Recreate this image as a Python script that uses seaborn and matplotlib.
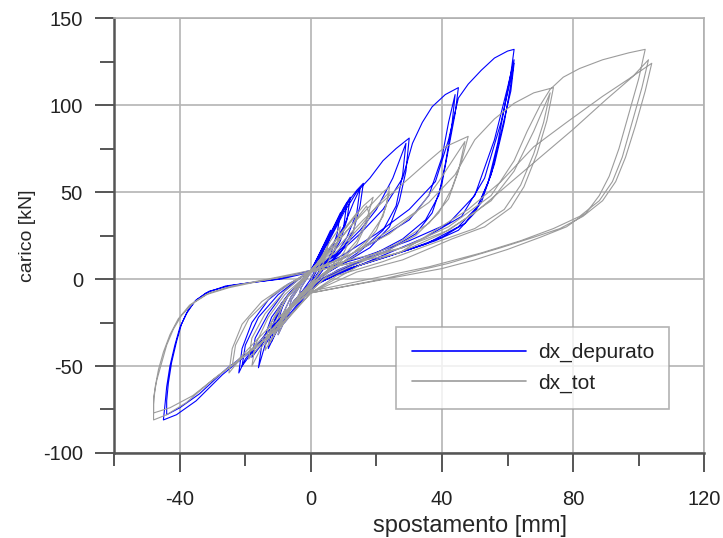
#!/usr/bin/env python3
# -*- coding: utf-8 -*-

#%% load modules
import matplotlib.pyplot as plt
import matplotlib.ticker as mticker
import pandas as pd
import seaborn as sns

#%% load path: (spostamento [mm], carico [kN])
depurato_pts = [
    (0, 0), (2, 8), (4, 18), (3, 10), (1, 2), (0, -3), (-2, -7), (-4, -12), (-3, -5), (-1, 1), (0, 4),
    (2, 12), (4, 20), (6, 28), (5, 18), (3, 8), (0, 0), (-3, -8), (-5, -14), (-7, -20), (-6, -12), (-3, -3), (0, 4),
    (3, 15), (6, 26), (9, 38), (8, 26), (6, 14), (3, 5), (0, -2), (-4, -10), (-7, -20), (-10, -32), (-9, -22),
    (-6, -10), (-2, 0), (0, 5),
    (3, 16), (7, 30), (10, 41), (12, 47), (11, 34), (9, 22), (6, 12), (2, 3), (0, -3), (-4, -11), (-8, -22),
    (-11, -32), (-13, -40), (-12, -28), (-9, -14), (-4, -3), (0, 5),
    (4, 18), (8, 32), (11, 44), (10, 30), (7, 16), (3, 6), (0, -4), (-5, -12), (-9, -24), (-12, -36), (-11, -24),
    (-7, -10), (-2, 1), (0, 5),
    (4, 18), (8, 33), (12, 46), (14, 51), (16, 55), (15, 42), (13, 28), (9, 15), (4, 6), (0, -4), (-5, -13),
    (-10, -26), (-14, -38), (-16, -51), (-15, -38), (-12, -22), (-7, -9), (-2, 1), (0, 5),
    (5, 15), (10, 30), (13, 44), (15, 52), (14, 38), (11, 24), (7, 12), (2, 3), (0, -5), (-6, -15), (-12, -30),
    (-18, -45), (-17, -34), (-13, -20), (-8, -7), (-3, 1), (0, 4),
    (5, 20), (10, 38), (14, 50), (18, 58), (22, 68), (26, 75), (30, 81), (29, 62), (27, 45), (24, 30), (18, 18),
    (10, 9), (3, 2), (0, -5), (-6, -16), (-12, -28), (-17, -39), (-20, -46), (-22, -54), (-21, -40), (-18, -25),
    (-13, -12), (-7, -3), (0, 4),
    (8, 15), (15, 28), (20, 40), (25, 58), (29, 78), (28, 60), (26, 42), (22, 28), (15, 16), (8, 7), (2, 0),
    (0, -6), (-7, -18), (-14, -32), (-21, -50), (-20, -38), (-16, -22), (-10, -9), (-4, 0), (0, 5),
    (8, 14), (15, 26), (22, 40), (28, 58), (31, 78), (34, 90), (37, 99), (41, 106), (45, 110), (44, 95), (42, 75),
    (40, 55), (37, 38), (32, 26), (24, 17), (14, 9), (5, 2), (0, -6), (-8, -25), (-17, -39), (-26, -52),
    (-34, -66), (-40, -74), (-44, -78), (-44, -70), (-43.5, -60), (-42.5, -48), (-41, -36), (-39.5, -26),
    (-37.5, -18), (-35, -12), (-31, -7), (-25, -4), (-18, -2), (-10, 0), (0, 5),
    (10, 12), (20, 22), (30, 34), (36, 48), (40, 70), (42, 90), (44, 106), (43, 88), (41, 66), (39, 48),
    (35, 34), (28, 23), (18, 13), (8, 5), (0, -5), (-9, -26), (-18, -41), (-27, -55), (-35, -70), (-41, -78),
    (-45, -81), (-44.5, -72), (-44, -62), (-43, -50), (-41.5, -38), (-40, -28), (-38, -20), (-35.5, -13),
    (-32, -8), (-26, -4), (-18, -2), (-9, 0), (0, 4),
    (10, 14), (20, 26), (30, 40), (38, 56), (42, 80), (45, 104), (48, 112), (52, 120), (56, 127), (60, 131),
    (62, 132), (61, 118), (59, 98), (57, 78), (54, 55), (50, 38), (45, 28), (38, 22), (30, 17), (20, 11),
    (10, 5), (0, -5), (-5, -14), (-10, -24), (-8, -12), (-3, -2), (0, 4),
    (15, 12), (30, 22), (42, 32), (50, 48), (56, 80), (60, 110), (62, 126), (61, 112), (59, 90), (56, 66),
    (52, 44), (47, 32), (40, 24), (30, 17), (18, 10), (6, 2), (0, -4),
    (20, 12), (35, 24), (46, 36), (53, 58), (58, 90), (62, 124), (61, 108), (58, 84), (55, 60), (51, 42),
    (45, 30), (35, 20), (22, 12), (10, 5), (0, -2),
]

tot_pts = [
    (0, 0), (3, 9), (5, 18), (4, 10), (2, 2), (0, -3), (-2, -7), (-4, -12), (-3, -5), (-1, 1), (0, 4),
    (3, 12), (6, 22), (9, 30), (8, 20), (5, 9), (1, 0), (-3, -8), (-5, -14), (-7, -20), (-6, -12), (-3, -3), (0, 4),
    (4, 14), (9, 26), (14, 38), (13, 27), (10, 15), (5, 5), (0, -3), (-4, -10), (-7, -20), (-10, -32), (-9, -22),
    (-6, -10), (-2, 0), (0, 5),
    (5, 16), (11, 30), (16, 42), (19, 47), (17, 34), (14, 22), (9, 11), (3, 2), (0, -4), (-4, -11), (-8, -22),
    (-11, -32), (-14, -41), (-13, -28), (-9, -14), (-4, -3), (0, 5),
    (6, 16), (12, 30), (17, 42), (18, 36), (14, 20), (8, 8), (2, 0), (0, -5), (-5, -12), (-9, -24), (-13, -38),
    (-12, -25), (-7, -10), (-2, 1), (0, 5),
    (6, 17), (12, 30), (18, 42), (22, 50), (24, 53), (23, 42), (20, 28), (14, 14), (6, 5), (0, -5), (-5, -13),
    (-10, -26), (-15, -39), (-18, -50), (-17, -38), (-13, -22), (-8, -9), (-2, 1), (0, 5),
    (8, 16), (15, 30), (21, 44), (24, 50), (22, 36), (17, 22), (10, 10), (3, 2), (0, -6), (-6, -15), (-12, -30),
    (-19, -46), (-18, -34), (-14, -20), (-8, -7), (-3, 1), (0, 5),
    (8, 18), (16, 34), (24, 48), (30, 58), (36, 68), (41, 76), (48, 82), (46, 68), (43, 52), (39, 38), (32, 25),
    (22, 15), (12, 7), (4, 0), (0, -7), (-6, -17), (-12, -29), (-18, -40), (-22, -47), (-25, -54), (-24, -40),
    (-21, -26), (-15, -13), (-8, -4), (0, 4),
    (12, 14), (24, 26), (32, 38), (39, 56), (47, 79), (45, 62), (42, 46), (36, 32), (26, 20), (14, 10), (5, 2),
    (0, -7), (-8, -19), (-16, -34), (-24, -50), (-23, -38), (-19, -23), (-12, -10), (-5, -1), (0, 5),
    (12, 14), (24, 28), (36, 44), (44, 60), (50, 80), (56, 92), (62, 101), (68, 107), (74, 110), (72, 91),
    (69, 72), (65, 53), (61, 41), (53, 30), (43, 23), (28, 11), (14, 4), (0, -8), (-9, -27), (-18, -41),
    (-28, -55), (-36, -67), (-43, -74), (-48, -77), (-48, -68), (-47, -58), (-45.5, -48), (-44, -38),
    (-42, -29), (-39.5, -21), (-36, -14), (-31, -8), (-24, -4), (-13, 0), (0, 5),
    (14, 12), (28, 18), (42, 28), (55, 45), (62, 62), (68, 85), (73, 107), (71, 90), (68, 72), (64, 54),
    (59, 40), (50, 29), (38, 21), (22, 10), (8, 2), (0, -8), (-10, -28), (-20, -44), (-30, -58), (-38, -71),
    (-44, -78), (-48, -81), (-48, -72), (-47.5, -62), (-46.5, -52), (-45, -42), (-43, -32), (-40.5, -23),
    (-37, -15), (-32, -9), (-25, -5), (-15, -1), (0, 4),
    (14, 10), (28, 18), (42, 30), (55, 48), (62, 68), (66, 85), (70, 100), (73, 109), (77, 116), (82, 121),
    (89, 126), (97, 130), (102, 132), (100, 115), (97, 95), (94, 75), (91, 59), (88, 48), (84, 38), (78, 30),
    (70, 24), (60, 17), (50, 11), (40, 6), (20, -1), (0, -8), (-5, -14), (-10, -22), (-8, -12), (-3, -2), (0, 4),
    (14, 10), (27, 15), (38, 28), (48, 40), (58, 56), (68, 76), (78, 90), (89, 105), (97, 115), (104, 124),
    (102, 108), (99, 88), (96, 70), (93, 56), (89, 45), (83, 36), (76, 29), (68, 24), (58, 18), (42, 9), (22, 0),
    (0, -8),
    (15, 8), (28, 16), (40, 26), (50, 38), (60, 54), (70, 70), (80, 86), (90, 103), (98, 116), (103, 126),
    (101, 110), (98, 90), (95, 70), (92, 56), (88, 45), (82, 36), (74, 29), (64, 22), (52, 15), (36, 7), (18, 0),
    (0, -7),
]

series_names = ['dx_depurato', 'dx_tot']
series_colors = ['#0000ff', '#9c9c9c']
x_major = [-40, 0, 40, 80, 120]
x_minor = [-60, -20, 20, 60, 100]

rows = []
for name, pts in zip(series_names, [depurato_pts, tot_pts]):
    for i, (x, y) in enumerate(pts):
        rows.append({'serie': name, 'step': i, 'spostamento': x, 'carico': y})
df = pd.DataFrame(rows)

#%% make graph
sns.set_style('white')
plt.rcParams['font.family'] = ['Liberation Sans', 'DejaVu Sans']
plt.rcParams['text.color'] = '#222222'
plt.rcParams['axes.unicode_minus'] = False

fig = plt.figure(figsize=(7.23, 5.38), dpi=100)
ax = fig.add_axes([0.158, 0.158, 0.816, 0.8085])

sns.lineplot(data=df, x='spostamento', y='carico', hue='serie',
             hue_order=series_names, palette=series_colors,
             sort=False, estimator=None, linewidth=0.8, ax=ax)

ax.set_xlim(-60, 120)
ax.set_ylim(-100, 150)
ax.xaxis.set_major_locator(mticker.FixedLocator(x_major))
ax.xaxis.set_minor_locator(mticker.FixedLocator(x_minor))
ax.yaxis.set_major_locator(mticker.MultipleLocator(50))
ax.yaxis.set_minor_locator(mticker.MultipleLocator(25))
ax.grid(True, which='major', color='#b4b4b4', linewidth=1.2)
ax.set_axisbelow(True)

for side in ['left', 'bottom']:
    ax.spines[side].set_color('#555555')
    ax.spines[side].set_linewidth(1.8)
for side in ['top', 'right']:
    ax.spines[side].set_color('#b0b0b0')
    ax.spines[side].set_linewidth(1.2)

ax.tick_params(axis='both', which='both', direction='out', color='#555555',
               width=1.4, labelsize=14.5, labelcolor='#222222',
               bottom=True, left=True)
ax.tick_params(axis='x', which='major', length=13.5, pad=13)
ax.tick_params(axis='x', which='minor', length=9)
ax.tick_params(axis='y', which='major', length=13.5, pad=9)
ax.tick_params(axis='y', which='minor', length=10)

ax.set_xlabel('spostamento [mm]', fontsize=17, labelpad=5)
ax.xaxis.set_label_coords(0.603, -0.142)
ax.set_ylabel('carico [kN]', fontsize=14, labelpad=5)

leg = ax.legend(loc='center', bbox_to_anchor=(0.478, 0.101, 0.463, 0.189),
                mode='expand', borderaxespad=0, fontsize=15, frameon=True,
                fancybox=False, handlelength=5.5, handletextpad=0.55,
                labelspacing=0.55, borderpad=0.75)
leg.get_frame().set_edgecolor('#a0a0a0')
leg.get_frame().set_linewidth(1.2)
for line in leg.get_lines():
    line.set_linewidth(1.2)

plt.savefig('out.png', dpi=100)
